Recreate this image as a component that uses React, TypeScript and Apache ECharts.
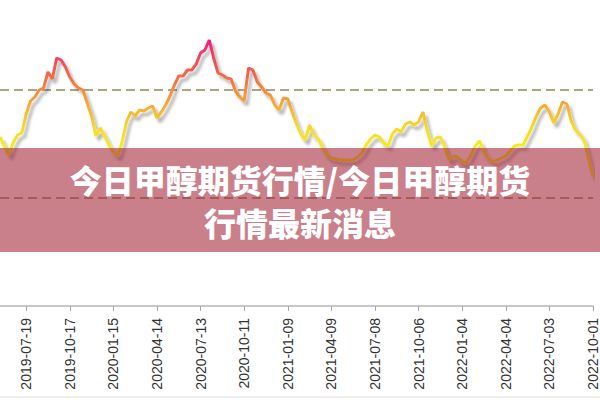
import React, { useEffect, useRef } from 'react';
import * as echarts from 'echarts';

// Category dates: one point every 9 days starting from 2019-05-26
const START_DATE_UTC = Date.UTC(2019, 4, 26);
const STEP_DAYS = 9;

const TICK_LABELS = [
  '2019-07-19', '2019-10-17', '2020-01-15', '2020-04-14', '2020-07-13',
  '2020-10-11', '2021-01-09', '2021-04-09', '2021-07-08', '2021-10-06',
  '2022-01-04', '2022-04-04', '2022-07-03', '2022-10-01',
];

const PRICES = [
  1690, 1600, 1510, 1630, 1710, 1730, 1920, 2050, 2090, 2160,
  2180, 2340, 2270, 2480, 2460, 2390, 2290, 2220, 2180, 2160,
  2030, 1900, 1700, 1780, 1700, 1610, 1540, 1500, 1640, 1840,
  1940, 1900, 1960, 1950, 1980, 2000, 1880, 1940, 2010, 2100,
  2210, 2300, 2300, 2360, 2360, 2420, 2530, 2560, 2660, 2480,
  2330, 2310, 2280, 2270, 2150, 2090, 2050, 2380, 2360, 2240,
  2190, 2130, 2110, 2010, 1960, 2080, 2070, 1940, 1820, 1720,
  1660, 1810, 1710, 1670, 1580, 1510, 1480, 1470, 1460, 1460,
  1460, 1460, 1490, 1530, 1610, 1670, 1710, 1690, 1630, 1600,
  1720, 1770, 1740, 1820, 1840, 1810, 1840, 1940, 1750, 1600,
  1680, 1690, 1590, 1460, 1500, 1490, 1440, 1430, 1510, 1600,
  1650, 1540, 1480, 1440, 1460, 1480, 1500, 1550, 1600, 1610,
  1610, 1700, 1790, 1900, 1980, 2010, 1940, 1830, 1920, 2040,
  2020, 1850, 1760, 1720, 1650, 1470, 1290,
];

const COLOR_STOPS = ['#f4f41c', '#f7dc26', '#f59e36', '#f25c4e', '#f01e80'];

const TITLE_LINE_1 = '今日甲醇期货行情/今日甲醇期货';
const TITLE_LINE_2 = '行情最新消息';

function buildDates(n: number): string[] {
  const out: string[] = [];
  for (let i = 0; i < n; i++) {
    out.push(new Date(START_DATE_UTC + i * STEP_DAYS * 86400000).toISOString().slice(0, 10));
  }
  return out;
}

export default function App() {
  const ref = useRef<HTMLDivElement>(null);

  useEffect(() => {
    if (!ref.current) return;
    const chart = echarts.init(ref.current, null, { renderer: 'svg' });
    const dates = buildDates(PRICES.length);
    const tickSet = new Set(TICK_LABELS);
    const showAt = (_i: number, v: string) => tickSet.has(v);

    chart.setOption({
      animation: false,
      grid: { left: 0, right: 1.6, top: 0, bottom: 94, containLabel: false },
      xAxis: {
        type: 'category',
        data: dates,
        boundaryGap: false,
        axisLine: { lineStyle: { color: '#c8c8c8', width: 2 } },
        axisTick: { show: true, length: 5, interval: showAt, lineStyle: { color: '#a8a8a8' } },
        axisLabel: {
          interval: showAt,
          rotate: 90,
          margin: 12,
          color: '#333',
          fontSize: 14,
          fontFamily: '"Liberation Sans", Arial, sans-serif',
        },
        splitLine: { show: false },
      },
      yAxis: {
        type: 'value',
        min: 0,
        max: 3060,
        interval: 1080,
        axisLine: { show: false },
        axisTick: { show: false },
        axisLabel: { show: false },
        splitLine: {
          show: true,
          showMinLine: false,
          showMaxLine: false,
          lineStyle: {
            color: '#ada486',
            width: 2,
            type: [9, 5],
          },
        },
      },
      visualMap: {
        show: false,
        type: 'continuous',
        min: 1480,
        max: 2660,
        inRange: { color: COLOR_STOPS },
      },
      series: [
        {
          type: 'line',
          data: PRICES,
          showSymbol: false,
          lineStyle: {
            width: 3,
            shadowColor: 'rgba(0,0,0,0.3)',
            shadowBlur: 3,
            shadowOffsetX: 3,
            shadowOffsetY: 4,
          },
        },
      ],
      graphic: [
        {
          type: 'rect',
          z: 100,
          shape: { x: 0, y: 148, width: 600, height: 104 },
          style: { fill: 'rgba(160,32,50,0.57)' },
        },
        {
          type: 'text',
          z: 101,
          x: 300,
          y: 179,
          style: {
            text: TITLE_LINE_1,
            fill: '#ffffff',
            font: '900 32px "Noto Sans CJK SC", sans-serif',
            textAlign: 'center',
            textVerticalAlign: 'middle',
          },
        },
        {
          type: 'text',
          z: 101,
          x: 300,
          y: 222,
          style: {
            text: TITLE_LINE_2,
            fill: '#ffffff',
            font: '900 32px "Noto Sans CJK SC", sans-serif',
            textAlign: 'center',
            textVerticalAlign: 'middle',
          },
        },
        {
          type: 'line',
          z: 50,
          shape: { x1: 0, y1: 397, x2: 600, y2: 397 },
          style: { stroke: '#dddddd', lineWidth: 1 },
        },
      ],
    });

    return () => chart.dispose();
  }, []);

  return (
    <div
      ref={ref}
      style={{ position: 'fixed', left: 0, top: 0, width: 600, height: 400, background: '#ffffff' }}
    />
  );
}
